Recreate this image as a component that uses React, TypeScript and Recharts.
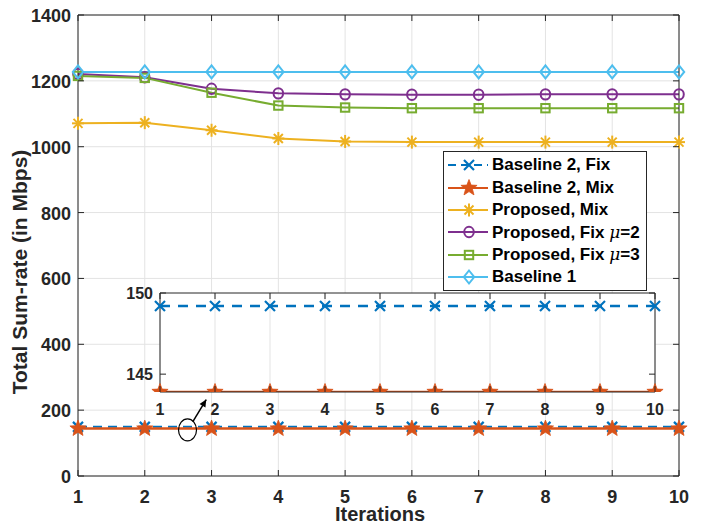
import React from 'react';
import {
  LineChart, Line, XAxis, YAxis, CartesianGrid, Legend, ReferenceDot, ReferenceLine,
} from 'recharts';

const iterations = [1, 2, 3, 4, 5, 6, 7, 8, 9, 10];
const baseline2Fix = [149.2, 149.2, 149.2, 149.2, 149.2, 149.2, 149.2, 149.2, 149.2, 149.2];
const baseline2Mix = [143.9, 143.9, 143.9, 143.9, 143.9, 143.9, 143.9, 143.9, 143.9, 143.9];
const proposedMix = [1071, 1073, 1050, 1025, 1016, 1014, 1014, 1014, 1014, 1014];
const proposedFix2 = [1221, 1211, 1176, 1162, 1159, 1158, 1158, 1159, 1159, 1159];
const proposedFix3 = [1215, 1209, 1164, 1125, 1119, 1117, 1117, 1117, 1117, 1117];
const baseline1 = [1227, 1227, 1227, 1227, 1227, 1227, 1227, 1227, 1227, 1227];

const yTicks = [0, 200, 400, 600, 800, 1000, 1200, 1400];
const insetYTicks = [145, 150];

const C = {
  blue: '#0072BD',
  orange: '#D95319',
  yellow: '#EDB120',
  purple: '#7E2F8E',
  green: '#77AC30',
  cyan: '#4DBEEE',
};
const AX = '#262626';
const GRID = '#e3e3e3';
const FONT = '"Liberation Sans", Arial, Helvetica, sans-serif';

const data = iterations.map((it, i) => ({
  it,
  fix: baseline2Fix[i],
  mix: baseline2Mix[i],
  pmix: proposedMix[i],
  p2: proposedFix2[i],
  p3: proposedFix3[i],
  b1: baseline1[i],
}));

type Kind = 'x' | 'star' | 'ast' | 'circle' | 'square' | 'diamond';

function Marker({ kind, color, cx, cy }: { kind: Kind; color: string; cx: number; cy: number }) {
  if (kind === 'x') {
    return (
      <g stroke={color} strokeWidth={2.2}>
        <line x1={cx - 5} y1={cy - 5} x2={cx + 5} y2={cy + 5} />
        <line x1={cx - 5} y1={cy + 5} x2={cx + 5} y2={cy - 5} />
      </g>
    );
  }
  if (kind === 'star') {
    const pts: string[] = [];
    for (let k = 0; k < 10; k++) {
      const r = k % 2 === 0 ? 8.5 : 3.6;
      const a = -Math.PI / 2 + (k * Math.PI) / 5;
      pts.push(`${cx + r * Math.cos(a)},${cy + r * Math.sin(a)}`);
    }
    return <polygon points={pts.join(' ')} fill={color} stroke={color} strokeWidth={0.8} />;
  }
  if (kind === 'ast') {
    return (
      <g stroke={color} strokeWidth={2}>
        <line x1={cx - 6} y1={cy} x2={cx + 6} y2={cy} />
        <line x1={cx} y1={cy - 6.5} x2={cx} y2={cy + 6.5} />
        <line x1={cx - 4.5} y1={cy - 4.5} x2={cx + 4.5} y2={cy + 4.5} />
        <line x1={cx - 4.5} y1={cy + 4.5} x2={cx + 4.5} y2={cy - 4.5} />
      </g>
    );
  }
  if (kind === 'circle') {
    return <ellipse cx={cx} cy={cy} rx={4.8} ry={5.2} fill="none" stroke={color} strokeWidth={2} />;
  }
  if (kind === 'square') {
    return <rect x={cx - 4.2} y={cy - 4.2} width={8.4} height={8.4} fill="none" stroke={color} strokeWidth={2} />;
  }
  return (
    <polygon
      points={`${cx},${cy - 6.5} ${cx + 5.2},${cy} ${cx},${cy + 6.5} ${cx - 5.2},${cy}`}
      fill="none"
      stroke={color}
      strokeWidth={2}
    />
  );
}

const dot = (kind: Kind, color: string) => (p: any) => (
  <Marker key={`${kind}-${p.index}`} kind={kind} color={color} cx={p.cx} cy={p.cy} />
);

const mu = <i style={{ fontWeight: 'normal', fontFamily: '"DejaVu Serif", serif' }}>μ</i>;

const legendItems: { name: React.ReactNode; kind: Kind; color: string; dashed?: boolean }[] = [
  { name: 'Baseline 2, Fix', kind: 'x', color: C.blue, dashed: true },
  { name: 'Baseline 2, Mix', kind: 'star', color: C.orange },
  { name: 'Proposed, Mix', kind: 'ast', color: C.yellow },
  { name: <>Proposed, Fix {mu}=2</>, kind: 'circle', color: C.purple },
  { name: <>Proposed, Fix {mu}=3</>, kind: 'square', color: C.green },
  { name: 'Baseline 1', kind: 'diamond', color: C.cyan },
];

const LegendBox = () => (
  <div
    style={{
      width: 202,
      height: 136,
      border: `1px solid ${AX}`,
      background: '#fff',
      boxSizing: 'content-box',
      paddingTop: 2,
      fontFamily: FONT,
      fontWeight: 'bold',
      fontSize: 17,
      color: '#000',
      overflow: 'hidden',
    }}
  >
    {legendItems.map((it, i) => (
      <div key={i} style={{ height: 22.4, display: 'flex', alignItems: 'center' }}>
        <svg width={48} height={22} style={{ flex: 'none' }}>
          <line
            x1={4}
            x2={44}
            y1={11}
            y2={11}
            stroke={it.color}
            strokeWidth={2}
            strokeDasharray={it.dashed ? '8 5' : undefined}
          />
          <Marker kind={it.kind} color={it.color} cx={25} cy={11} />
        </svg>
        <span style={{ whiteSpace: 'nowrap', lineHeight: '22px' }}>{it.name}</span>
      </div>
    ))}
  </div>
);

const XTick = ({ x, y, payload, inward = 6, dy = 27, size = 18 }: any) => (
  <g>
    <line x1={x} x2={x} y1={y} y2={y - inward} stroke={AX} strokeWidth={1} />
    <text x={x} y={y + dy} textAnchor="middle" fill={AX} fontSize={size} fontWeight="bold" fontFamily={FONT}>
      {payload.value}
    </text>
  </g>
);

const TopTick = ({ x, y, inward = 6 }: any) => (
  <line x1={x} x2={x} y1={y} y2={y + inward} stroke={AX} strokeWidth={1} />
);

const YTick = ({ x, y, payload, inward = 6, dx = 7, dy = 7, size = 18 }: any) => (
  <g>
    <line x1={x} x2={x + inward} y1={y} y2={y} stroke={AX} strokeWidth={1} />
    <text x={x - dx} y={y + dy} textAnchor="end" fill={AX} fontSize={size} fontWeight="bold" fontFamily={FONT}>
      {payload.value}
    </text>
  </g>
);

const RightTick = ({ x, y, inward = 6 }: any) => (
  <line x1={x} x2={x - inward} y1={y} y2={y} stroke={AX} strokeWidth={1} />
);

const Ellipse = (p: any) => (
  <ellipse cx={p.cx} cy={p.cy} rx={9} ry={11} fill="none" stroke="#000" strokeWidth={1.2} />
);

const Arrow = (p: any) => {
  const { x1, y1, x2, y2 } = p;
  const a = Math.atan2(y2 - y1, x2 - x1);
  const L = 8;
  const w = 0.45;
  const pA = `${x2 - L * Math.cos(a - w)},${y2 - L * Math.sin(a - w)}`;
  const pB = `${x2 - L * Math.cos(a + w)},${y2 - L * Math.sin(a + w)}`;
  return (
    <g>
      <line x1={x1} y1={y1} x2={x2} y2={y2} stroke="#000" strokeWidth={1.5} />
      <polygon points={`${x2},${y2} ${pA} ${pB}`} fill="#000" />
    </g>
  );
};

const XLabel = () => (
  <text x={380} y={521} textAnchor="middle" fill={AX} fontSize={20} fontWeight="bold" fontFamily={FONT}>
    Iterations
  </text>
);

const YLabel = () => (
  <text
    x={27}
    y={272}
    transform="rotate(-90 27 272)"
    textAnchor="middle"
    fill={AX}
    fontSize={21}
    fontWeight="bold"
    fontFamily={FONT}
  >
    Total Sum-rate (in Mbps)
  </text>
);

export default function App() {
  return (
    <div style={{ position: 'absolute', left: 0, top: 0, width: 706, height: 525, overflow: 'hidden', background: '#fff' }}>
      <LineChart width={706} height={525} data={data} margin={{ top: 14, right: 26, bottom: 0, left: 0 }}>
        <CartesianGrid stroke={GRID} strokeWidth={1} />
        <XAxis
          dataKey="it"
          type="number"
          domain={[1, 10]}
          ticks={iterations}
          height={49}
          stroke={AX}
          tickSize={0}
          tickMargin={0}
          tick={<XTick />}
          interval={0}
          label={{ content: () => <XLabel /> }}
        />
        <XAxis xAxisId="top" dataKey="it" orientation="top" type="number" domain={[1, 10]} ticks={iterations} height={1} stroke={AX} tickSize={0} tickMargin={0} tick={<TopTick />} interval={0} />
        <YAxis
          type="number"
          domain={[0, 1400]}
          ticks={yTicks}
          width={78}
          stroke={AX}
          tickSize={0}
          tickMargin={0}
          tick={<YTick />}
          interval={0}
          label={{ content: () => <YLabel /> }}
        />
        <YAxis yAxisId="right" orientation="right" type="number" domain={[0, 1400]} ticks={yTicks} width={1} stroke={AX} tickSize={0} tickMargin={0} tick={<RightTick />} interval={0} />
        {/* invisible series so the top/right box axes get drawn */}
        <Line xAxisId="top" yAxisId="right" dataKey="b1" stroke="none" dot={false} activeDot={false} legendType="none" isAnimationActive={false} />
        <Line dataKey="fix" stroke={C.blue} strokeWidth={2} strokeDasharray="9 6" dot={dot('x', C.blue)} isAnimationActive={false} />
        <Line dataKey="mix" stroke={C.orange} strokeWidth={2.5} dot={dot('star', C.orange)} isAnimationActive={false} />
        <Line dataKey="pmix" stroke={C.yellow} strokeWidth={2} dot={dot('ast', C.yellow)} isAnimationActive={false} />
        <Line dataKey="p2" stroke={C.purple} strokeWidth={2} dot={dot('circle', C.purple)} isAnimationActive={false} />
        <Line dataKey="p3" stroke={C.green} strokeWidth={2} dot={dot('square', C.green)} isAnimationActive={false} />
        <Line dataKey="b1" stroke={C.cyan} strokeWidth={2} dot={dot('diamond', C.cyan)} isAnimationActive={false} />
        <ReferenceDot x={2.64} y={140} r={10} shape={Ellipse} />
        <ReferenceLine segment={[{ x: 2.72, y: 165 }, { x: 2.92, y: 232 }]} shape={Arrow} />
        <Legend
          layout="vertical"
          align="center"
          verticalAlign="middle"
          content={() => <LegendBox />}
          wrapperStyle={{ position: 'absolute', left: 443, top: 151, width: 'auto' }}
        />
      </LineChart>

      <div style={{ position: 'absolute', left: 110, top: 283 }}>
        <LineChart width={555} height={144} data={data} margin={{ top: 9, right: 9, bottom: 0, left: 0 }}>
          <CartesianGrid stroke={GRID} fill="#fff" fillOpacity={1} horizontal={false} />
          <XAxis dataKey="it" type="number" domain={[1, 10]} ticks={iterations} height={35} stroke={AX} tickSize={0} tickMargin={0} interval={0} tick={<XTick dy={23} size={16} />} />
          <XAxis xAxisId="top" dataKey="it" orientation="top" type="number" domain={[1, 10]} ticks={iterations} height={1} stroke={AX} tickSize={0} tickMargin={0} interval={0} tick={<TopTick />} />
          <YAxis type="number" domain={[143.9, 150]} ticks={insetYTicks} width={50} stroke={AX} tickSize={0} tickMargin={0} interval={0} tick={<YTick dx={7} dy={6} size={16} />} allowDataOverflow />
          <YAxis yAxisId="right" orientation="right" type="number" domain={[143.9, 150]} ticks={insetYTicks} width={1} stroke={AX} tickSize={0} tickMargin={0} interval={0} tick={<RightTick />} allowDataOverflow />
          <Line xAxisId="top" yAxisId="right" dataKey="fix" stroke="none" dot={false} activeDot={false} legendType="none" isAnimationActive={false} />
          <Line dataKey="fix" stroke={C.blue} strokeWidth={2.5} strokeDasharray="10 8" dot={dot('x', C.blue)} isAnimationActive={false} />
          <Line dataKey="mix" stroke={C.orange} strokeWidth={2.5} dot={dot('star', C.orange)} isAnimationActive={false} />
        </LineChart>
      </div>
    </div>
  );
}
